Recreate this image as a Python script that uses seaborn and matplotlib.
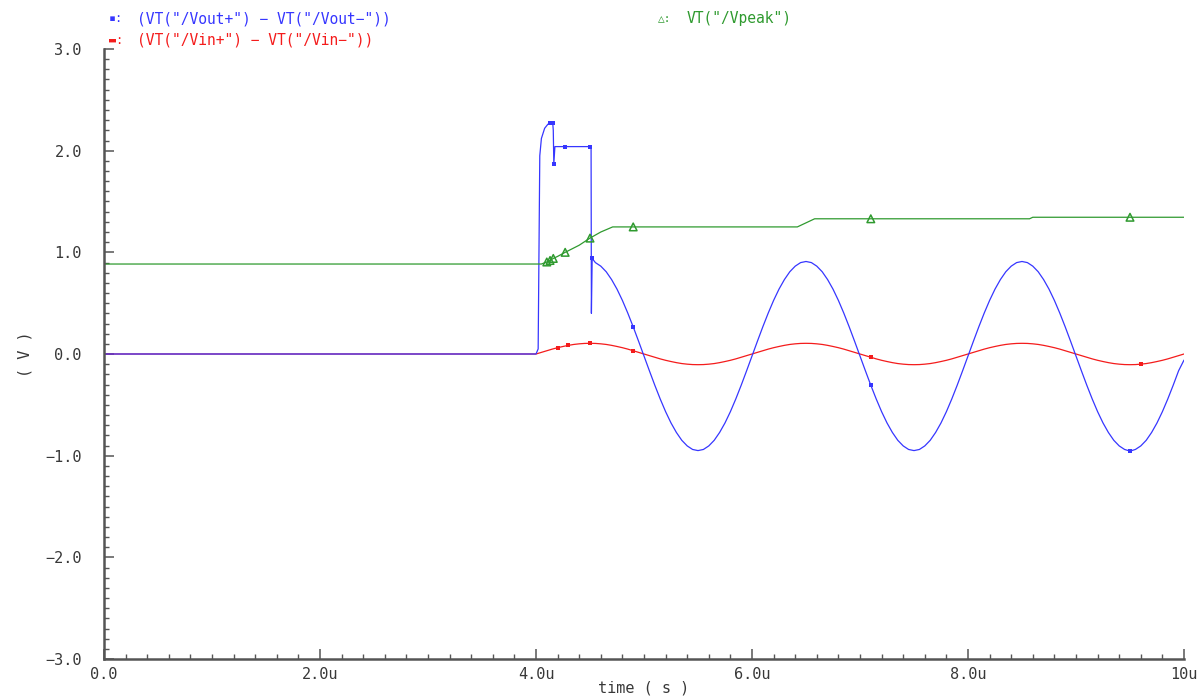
import matplotlib
matplotlib.use("Agg")
import matplotlib.pyplot as plt
import seaborn as sns
import pandas as pd
from matplotlib.ticker import FixedLocator, MultipleLocator

# ---- transient samples: time in microseconds, level in volts ----
# shared output grid of the simulator after the input switches on
grid_t = [4.00, 4.05, 4.10, 4.15, 4.20, 4.25, 4.30, 4.35, 4.40, 4.45,
          4.50, 4.55, 4.60, 4.65, 4.70, 4.75, 4.80, 4.85, 4.90, 4.95,
          5.00, 5.05, 5.10, 5.15, 5.20, 5.25, 5.30, 5.35, 5.40, 5.45,
          5.50, 5.55, 5.60, 5.65, 5.70, 5.75, 5.80, 5.85, 5.90, 5.95,
          6.00, 6.05, 6.10, 6.15, 6.20, 6.25, 6.30, 6.35, 6.40, 6.45,
          6.50, 6.55, 6.60, 6.65, 6.70, 6.75, 6.80, 6.85, 6.90, 6.95,
          7.00, 7.05, 7.10, 7.15, 7.20, 7.25, 7.30, 7.35, 7.40, 7.45,
          7.50, 7.55, 7.60, 7.65, 7.70, 7.75, 7.80, 7.85, 7.90, 7.95,
          8.00, 8.05, 8.10, 8.15, 8.20, 8.25, 8.30, 8.35, 8.40, 8.45,
          8.50, 8.55, 8.60, 8.65, 8.70, 8.75, 8.80, 8.85, 8.90, 8.95,
          9.00, 9.05, 9.10, 9.15, 9.20, 9.25, 9.30, 9.35, 9.40, 9.45,
          9.50, 9.55, 9.60, 9.65, 9.70, 9.75, 9.80, 9.85, 9.90, 9.95,
          10.00]

# differential output: start-up kick, then the settled swing from 4.55u
vout_head_t = [0.0, 4.0, 4.02, 4.035, 4.05, 4.08, 4.11, 4.13, 4.155, 4.16,
               4.165, 4.175, 4.27, 4.5, 4.51, 4.513, 4.52]
vout_head_v = [0.0, 0.0, 0.05, 1.95, 2.12, 2.22, 2.26, 2.27, 2.27, 2.20,
               1.87, 2.04, 2.04, 2.04, 2.04, 0.40, 0.94]
vout_wave_v = [0.899, 0.864, 0.809, 0.732, 0.638, 0.527, 0.402, 0.267, 0.125, -0.020,
               -0.165, -0.307, -0.442, -0.567, -0.678, -0.772, -0.849, -0.904, -0.939, -0.950,
               -0.939, -0.904, -0.849, -0.772, -0.678, -0.567, -0.442, -0.307, -0.165, -0.020,
               0.125, 0.267, 0.402, 0.527, 0.638, 0.732, 0.809, 0.864, 0.899, 0.910,
               0.899, 0.864, 0.809, 0.732, 0.638, 0.527, 0.402, 0.267, 0.125, -0.020,
               -0.165, -0.307, -0.442, -0.567, -0.678, -0.772, -0.849, -0.904, -0.939, -0.950,
               -0.939, -0.904, -0.849, -0.772, -0.678, -0.567, -0.442, -0.307, -0.165, -0.020,
               0.125, 0.267, 0.402, 0.527, 0.638, 0.732, 0.809, 0.864, 0.899, 0.910,
               0.899, 0.864, 0.809, 0.732, 0.638, 0.527, 0.402, 0.267, 0.125, -0.020,
               -0.165, -0.307, -0.442, -0.567, -0.678, -0.772, -0.849, -0.904, -0.939, -0.955,
               -0.939, -0.904, -0.849, -0.772, -0.678, -0.567, -0.442, -0.307, -0.165, -0.060]
vout_t = vout_head_t + grid_t[11:]
vout_v = vout_head_v + vout_wave_v
vout_marks = [7, 8, 10, 12, 13, 16, 24, 68, 116]

# differential input
vin_t = [0.0] + grid_t
vin_v = [0.0,
         0.000, 0.016, 0.032, 0.048, 0.062, 0.074, 0.085, 0.094, 0.100, 0.104,
         0.105, 0.104, 0.100, 0.094, 0.085, 0.074, 0.062, 0.048, 0.032, 0.016,
         0.000, -0.016, -0.032, -0.048, -0.062, -0.074, -0.085, -0.094, -0.100, -0.104,
         -0.105, -0.104, -0.100, -0.094, -0.085, -0.074, -0.062, -0.048, -0.032, -0.016,
         0.000, 0.016, 0.032, 0.048, 0.062, 0.074, 0.085, 0.094, 0.100, 0.104,
         0.105, 0.104, 0.100, 0.094, 0.085, 0.074, 0.062, 0.048, 0.032, 0.016,
         0.000, -0.016, -0.032, -0.048, -0.062, -0.074, -0.085, -0.094, -0.100, -0.104,
         -0.105, -0.104, -0.100, -0.094, -0.085, -0.074, -0.062, -0.048, -0.032, -0.016,
         0.000, 0.016, 0.032, 0.048, 0.062, 0.074, 0.085, 0.094, 0.100, 0.104,
         0.105, 0.104, 0.100, 0.094, 0.085, 0.074, 0.062, 0.048, 0.032, 0.016,
         0.000, -0.016, -0.032, -0.048, -0.062, -0.074, -0.085, -0.094, -0.100, -0.104,
         -0.105, -0.104, -0.100, -0.094, -0.085, -0.074, -0.062, -0.048, -0.032, -0.016,
         0.000]
vin_marks = [5, 7, 11, 19, 63, 113]

# peak detector output
vpeak_t = [0.0, 4.05, 4.1, 4.13, 4.16, 4.2, 4.27, 4.4, 4.5, 4.6, 4.71, 4.9,
           6.42, 6.5, 6.58, 7.1, 8.57, 8.6, 9.5, 10.0]
vpeak_v = [0.885, 0.885, 0.905, 0.92, 0.94, 0.96, 1.0, 1.07, 1.14, 1.2, 1.25, 1.25,
           1.25, 1.29, 1.33, 1.33, 1.33, 1.345, 1.345, 1.345]
vpeak_marks = [2, 3, 4, 6, 8, 11, 15, 18]

x_ticks = [0, 2, 4, 6, 8, 10]
x_tick_labels = ["0.0", "2.0u", "4.0u", "6.0u", "8.0u", "10u"]
y_ticks = [-3, -2, -1, 0, 1, 2, 3]
y_tick_labels = ["\u22123.0", "\u22122.0", "\u22121.0", "0.0", "1.0", "2.0", "3.0"]

trace_names = ['(VT("/Vout+") \u2212 VT("/Vout\u2212"))',
               '(VT("/Vin+") \u2212 VT("/Vin\u2212"))',
               'VT("/Vpeak")']

BLUE, RED, GREEN = "#3636ff", "#f41c1c", "#2f9a2f"
AXIS_GREY = "#555555"
TEXT_GREY = "#383838"
MONO = "DejaVu Sans Mono"

sns.set_theme(style="white")
plt.rcParams["font.family"] = ["DejaVu Sans"]

W, H = 1204, 698
fig = plt.figure(figsize=(W / 100, H / 100), dpi=100)
ax = fig.add_axes([104 / W, 1 - 659 / H, 1080 / W, 610 / H])

series = [
    (vin_t, vin_v, vin_marks, RED),
    (vout_t, vout_v, vout_marks, BLUE),
    (vpeak_t, vpeak_v, vpeak_marks, GREEN),
]
frames = []
for t, v, marks, col in series:
    df = pd.DataFrame({"t": t, "v": v})
    frames.append((df, marks, col))
    sns.lineplot(data=df, x="t", y="v", ax=ax, color=col, lw=0.9,
                 estimator=None, sort=False, legend=False)

# point markers along each trace
for (df, marks, col), mk in zip(frames, ["s", "s", "^"]):
    sub = df.iloc[marks]
    if mk == "^":
        sns.scatterplot(data=sub, x="t", y="v", ax=ax, marker=mk, s=30,
                        facecolor="none", edgecolor=col, linewidth=1.1,
                        legend=False, zorder=4)
    else:
        sns.scatterplot(data=sub, x="t", y="v", ax=ax, color=col, marker=mk,
                        s=12, linewidth=0, legend=False, zorder=4)

ax.set_xlim(0, 10)
ax.set_ylim(-3, 3)

ax.xaxis.set_major_locator(FixedLocator(x_ticks))
ax.set_xticklabels(x_tick_labels)
ax.yaxis.set_major_locator(FixedLocator(y_ticks))
ax.set_yticklabels(y_tick_labels)
ax.xaxis.set_minor_locator(MultipleLocator(0.2))
ax.yaxis.set_minor_locator(MultipleLocator(0.1))

ax.tick_params(axis="both", which="both", direction="in", colors=AXIS_GREY,
               labelcolor=TEXT_GREY, labelsize=11,
               bottom=True, left=True, top=False, right=False)
ax.tick_params(axis="both", which="major", length=7, width=1.1)
ax.tick_params(axis="both", which="minor", length=3.5, width=1.0)
ax.tick_params(axis="y", which="both", pad=16)
ax.tick_params(axis="x", which="both", pad=6)
for lbl in ax.get_xticklabels() + ax.get_yticklabels():
    lbl.set_family(MONO)

for side in ("top", "right"):
    ax.spines[side].set_visible(False)
for side in ("left", "bottom"):
    ax.spines[side].set_color(AXIS_GREY)
    ax.spines[side].set_linewidth(1.8)

ax.set_xlabel("time ( s )", fontsize=11, color=TEXT_GREY, family=MONO)
ax.xaxis.set_label_coords(0.5, -(688 - 659) / 610)
ax.xaxis.label.set_va("center")
ax.set_ylabel("( V )", fontsize=11, color=TEXT_GREY, family=MONO)
ax.yaxis.set_label_coords(-(104 - 33) / 1080, 0.5)

# trace legend along the top edge
def legend_entry(x_sym, x_txt, y, sym, sym_size, name, col):
    fig.text(x_sym / W, 1 - y / H, sym, color=col, fontsize=sym_size,
             va="center", ha="left", family=MONO)
    fig.text(x_txt / W, 1 - y / H, name, color=col, fontsize=10.5,
             va="center", ha="left", family=MONO)

legend_entry(109, 137, 19, "\u25aa:", 8.5, trace_names[0], BLUE)
legend_entry(109, 137, 40, "\u25ac:", 8.5, trace_names[1], RED)
legend_entry(658, 687, 19, "\u25b3:", 8, trace_names[2], GREEN)

fig.savefig("out.png", dpi=100, facecolor="white")
